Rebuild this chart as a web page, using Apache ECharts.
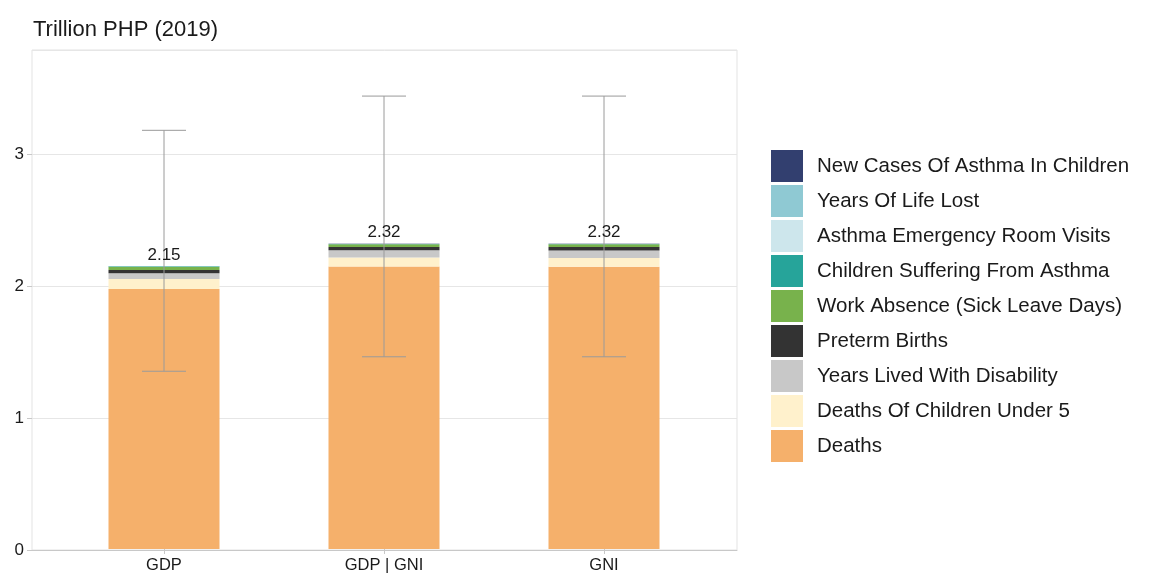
<!DOCTYPE html>
<html>
<head>
<meta charset="utf-8">
<script src="https://cdn.jsdelivr.net/npm/echarts@6/dist/echarts.min.js"></script>
<style>
  html, body { margin: 0; padding: 0; background: #fff; }
  #chart { width: 1162px; height: 574px; }
</style>
</head>
<body>
<div id="chart"></div>
<script>
var categories = ['GDP', 'GDP | GNI', 'GNI'];

// stacked components, bottom to top (trillion PHP)
var deaths = [1.975, 2.146, 2.143];
var deathsUnder5 = [0.075, 0.068, 0.068];
var yearsLivedDisability = [0.045, 0.055, 0.057];
var pretermBirths = [0.025, 0.025, 0.026];
var workAbsence = [0.024, 0.020, 0.020];
var childrenSuffering = [0.003, 0.003, 0.003];
var erVisits = [0.001, 0.001, 0.001];
var yearsLifeLost = [0.001, 0.001, 0.001];
var newCases = [0.001, 0.001, 0.001];

// uncertainty range
var errLow = [1.35, 1.46, 1.46];
var errHigh = [3.18, 3.44, 3.44];

var yMax = 3.79;

var layers = [
    { name: 'Deaths', data: deaths, color: '#f5b06b' },
    { name: 'Deaths Of Children Under 5', data: deathsUnder5, color: '#fff1cc' },
    { name: 'Years Lived With Disability', data: yearsLivedDisability, color: '#c8c8c8' },
    { name: 'Preterm Births', data: pretermBirths, color: '#333333' },
    { name: 'Work Absence (Sick Leave Days)', data: workAbsence, color: '#78b24c' },
    { name: 'Children Suffering From Asthma', data: childrenSuffering, color: '#26a49a' },
    { name: 'Asthma Emergency Room Visits', data: erVisits, color: '#cde6ec' },
    { name: 'Years Of Life Lost', data: yearsLifeLost, color: '#8fc9d3' },
    { name: 'New Cases Of Asthma In Children', data: newCases, color: '#323f6f' }
];

var totals = categories.map(function (c, i) {
    var s = 0;
    layers.forEach(function (l) { s += l.data[i]; });
    return s;
});

var font = 'Liberation Sans, Arial, sans-serif';
var chart = echarts.init(document.getElementById('chart'));

var series = layers.map(function (l) {
    return {
        name: l.name,
        type: 'bar',
        stack: 'total',
        xAxisIndex: 1,
        yAxisIndex: 1,
        barWidth: 111,
        itemStyle: { color: l.color },
        data: l.data
    };
});

series.push({
    name: 'range',
    type: 'custom',
    xAxisIndex: 1,
    yAxisIndex: 1,
    z: 10,
    silent: true,
    encode: { x: 0, y: [1, 2] },
    data: categories.map(function (c, i) { return [i, errLow[i], errHigh[i], totals[i]]; }),
    renderItem: function (params, api) {
        var x = api.value(0);
        var lo = api.coord([x, api.value(1)]);
        var hi = api.coord([x, api.value(2)]);
        var top = api.coord([x, api.value(3)]);
        var hw = 22;
        var st = { stroke: '#9a9a9a', lineWidth: 1 };
        return {
            type: 'group',
            children: [
                { type: 'line', shape: { x1: lo[0], y1: lo[1], x2: hi[0], y2: hi[1] }, style: st },
                { type: 'line', shape: { x1: hi[0] - hw, y1: hi[1], x2: hi[0] + hw, y2: hi[1] }, style: st },
                { type: 'line', shape: { x1: lo[0] - hw, y1: lo[1], x2: lo[0] + hw, y2: lo[1] }, style: st },
                {
                    type: 'text',
                    x: top[0], y: top[1] - 11,
                    style: {
                        text: api.value(3).toFixed(2),
                        fill: '#1a1a1a',
                        font: '17px ' + font,
                        align: 'center',
                        verticalAlign: 'middle'
                    }
                }
            ]
        };
    }
});

option = {
    animation: false,
    backgroundColor: '#ffffff',
    title: {
        text: 'Trillion PHP (2019)',
        left: 28,
        top: 14,
        textStyle: { fontFamily: font, fontSize: 22, fontWeight: 'normal', color: '#1a1a1a' }
    },
    legend: {
        orient: 'vertical',
        left: 766,
        top: 145,
        itemWidth: 32,
        itemHeight: 32,
        itemGap: 3,
        icon: 'rect',
        data: layers.slice().reverse().map(function (l) { return l.name; }),
        textStyle: { fontFamily: font, fontSize: 20.5, color: '#1a1a1a', padding: [0, 0, 0, 9] }
    },
    grid: [
        {
            left: 32, top: 50, width: 705, height: 500,
            show: true,
            borderColor: '#e3e3e3',
            borderWidth: 1,
            backgroundColor: '#ffffff'
        },
        { left: 54, top: 50, width: 660, height: 500 }
    ],
    xAxis: [
        {
            gridIndex: 0,
            type: 'value',
            min: 0, max: 1,
            splitLine: { show: false },
            axisLine: { show: true, lineStyle: { color: '#c8c8c8' } },
            axisTick: { show: false },
            axisLabel: { show: false }
        },
        {
            gridIndex: 1,
            type: 'category',
            data: categories,
            axisLine: { show: false },
            axisTick: { show: true, alignWithLabel: true, length: 5, lineStyle: { color: '#c8c8c8' } },
            axisLabel: { fontFamily: font, fontSize: 16.5, color: '#1a1a1a', margin: 8 }
        }
    ],
    yAxis: [
        {
            gridIndex: 0,
            type: 'value',
            min: 0,
            max: yMax,
            interval: 1,
            splitLine: { show: true, lineStyle: { color: '#e6e6e6' } },
            axisLine: { show: false },
            axisTick: { show: true, length: 5, lineStyle: { color: '#c8c8c8' } },
            axisLabel: {
                showMaxLabel: false,
                fontFamily: font, fontSize: 17, color: '#1a1a1a', margin: 8
            }
        },
        {
            gridIndex: 1,
            type: 'value',
            min: 0,
            max: yMax,
            show: false,
            splitLine: { show: false }
        }
    ],
    series: series
};

chart.setOption(option, true);
</script>
</body>
</html>
